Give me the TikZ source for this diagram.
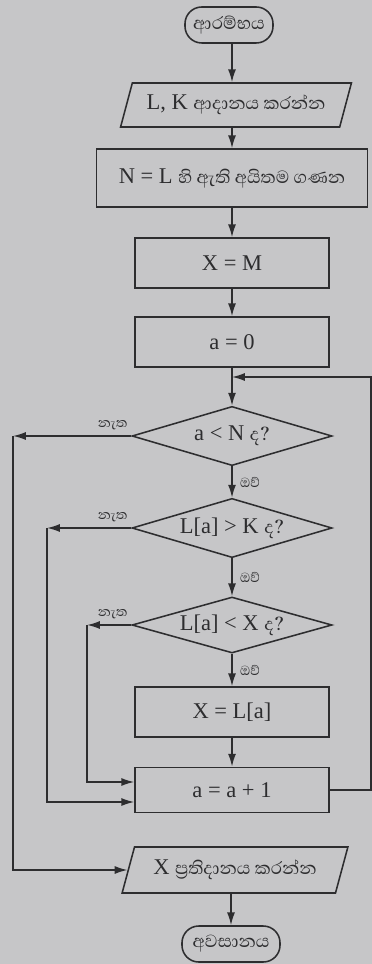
\documentclass[tikz,border=0pt]{standalone}
\usepackage{fontspec}
\setmainfont{Liberation Serif}
\newfontfamily\sinhalafont[Script=Sinhala]{Abhaya Libre}
\newcommand\snh[1]{{\sinhalafont\fontsize{16}{18}\selectfont #1}}
\usetikzlibrary{arrows.meta,positioning,shapes.geometric}
\definecolor{paper}{RGB}{198,198,200}
\definecolor{ink}{RGB}{45,45,47}
\tikzset{
  box/.style={draw=ink, text=ink, line width=1.1pt, font=\fontsize{16}{19}\selectfont},
  term/.style={box, rounded corners=0.42cm, minimum width=2.2cm, minimum height=0.9cm, inner sep=2pt},
  io/.style={box, trapezium, trapezium left angle=70, trapezium right angle=110,
             trapezium stretches=true, minimum height=1.1cm},
  proc/.style={box, rectangle, minimum width=4.85cm, minimum height=1.25cm},
  dec/.style={box, diamond, aspect=3.3, inner sep=0pt, minimum width=5cm, minimum height=1.48cm},
  lbl/.style={text=ink, inner sep=1pt, font=\sinhalafont\fontsize{12}{14}\selectfont},
  arr/.style={draw=ink, line width=1.1pt, -{Latex[length=0.32cm,width=0.2cm]}}
}
\begin{document}
\begin{tikzpicture}[x=0.025cm,y=-0.025cm]
  \fill[paper] (0,0) rectangle (372,964);
  \useasboundingbox (0,0) rectangle (372,964);

  \node[term] (start) at (229,25) {\snh{ආරම්භය}};
  \node[io, minimum width=5.78cm] (inp) at (236,105) {L, K \snh{ආදානය කරන්න}};
  \node[proc, minimum width=6.78cm, minimum height=1.45cm] (nbox) at (232,178) {N = L \snh{හි ඇති අයිතම ගණන}};
  \node[proc] (xm) at (232,263) {X = M};
  \node[proc] (azero) at (232,342) {a = 0};
  \coordinate (join) at (232,377);
  \node[dec] (dn) at (232,436) {a < N \snh{ද?}};
  \node[dec] (dk) at (232,528) {L[a] > K \snh{ද?}};
  \node[dec, minimum height=1.4cm] (dx) at (232,625) {L[a] < X \snh{ද?}};
  \node[proc] (xl) at (232,712) {X = L[a]};
  \node[proc, minimum height=1.13cm] (inc) at (232,790) {a = a + 1};
  \node[io, minimum width=5.65cm, minimum height=1.15cm] (outp) at (235,870) {X \snh{ප්‍රතිදානය කරන්න}};
  \node[term, minimum width=2.45cm] (stop) at (231,944) {\snh{අවසානය}};

  \coordinate (ln) at (13,436);
  \coordinate (lk) at (47,528);
  \coordinate (lx) at (87,625);
  \coordinate (rt) at (371,377);

  \foreach \a/\b in {start/inp,inp/nbox,nbox/xm,xm/azero,azero/dn,xl/inc}
    \draw[arr] (\a.south -| azero) -- (\b.north -| azero);
  \draw[arr] (outp.south -| stop) -- (stop);
  \foreach \a/\b in {dn/dk,dk/dx,dx/xl}
    \draw[arr] (\a) -- node[lbl, right=0.15cm] {ඔව්} (\b);
  \foreach \d in {dn,dk,dx}
    \node[lbl, above left=0.1cm and 0.05cm of \d.west] {නැත};

  \draw[arr] (dn.west) -- (ln);
  \draw[arr] (ln) |- (outp);
  \draw[arr] (dk.west) -- (lk);
  \draw[arr] (lk) |- ([yshift=-0.3cm]inc.west);
  \draw[arr] (dx.west) -- (lx);
  \draw[arr] (lx) |- ([yshift=0.2cm]inc.west);
  \draw[arr] (inc.east) -| (rt) -- (join);
\end{tikzpicture}
\end{document}
